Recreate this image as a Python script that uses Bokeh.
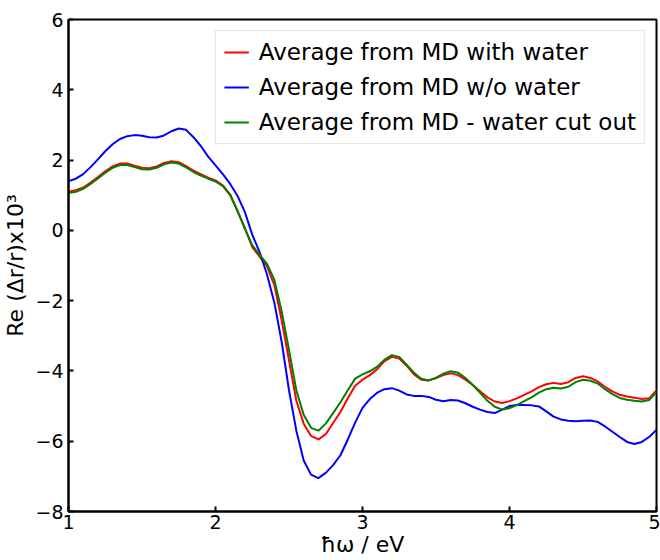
from bokeh.plotting import figure
from bokeh.models import Range1d, FixedTicker, Legend, LegendItem
from bokeh.embed import file_html
from bokeh.resources import INLINE

energy = [1.00, 1.05, 1.10, 1.15, 1.20, 1.25, 1.30, 1.35, 1.40, 1.45,
          1.50, 1.55, 1.60, 1.65, 1.70, 1.75, 1.80, 1.85, 1.90, 1.95,
          2.00, 2.05, 2.10, 2.15, 2.20, 2.25, 2.30, 2.35, 2.40, 2.45,
          2.50, 2.55, 2.60, 2.65, 2.70, 2.75, 2.80, 2.85, 2.90, 2.95,
          3.00, 3.05, 3.10, 3.15, 3.20, 3.25, 3.30, 3.35, 3.40, 3.45,
          3.50, 3.55, 3.60, 3.65, 3.70, 3.75, 3.80, 3.85, 3.90, 3.95,
          4.00, 4.05, 4.10, 4.15, 4.20, 4.25, 4.30, 4.35, 4.40, 4.45,
          4.50, 4.55, 4.60, 4.65, 4.70, 4.75, 4.80, 4.85, 4.90, 4.95,
          5.00]

with_water = [1.10, 1.14, 1.22, 1.36, 1.52, 1.68, 1.82, 1.90, 1.90, 1.84,
              1.78, 1.77, 1.82, 1.92, 1.97, 1.94, 1.83, 1.70, 1.60, 1.50,
              1.42, 1.28, 1.02, 0.55, 0.06, -0.48, -0.75, -1.02, -1.55, -2.55,
              -3.70, -4.85, -5.50, -5.85, -5.95, -5.80, -5.48, -5.17, -4.78, -4.42,
              -4.25, -4.12, -3.95, -3.72, -3.60, -3.65, -3.85, -4.10, -4.25, -4.27,
              -4.20, -4.12, -4.07, -4.12, -4.25, -4.40, -4.58, -4.75, -4.87, -4.91,
              -4.86, -4.78, -4.68, -4.58, -4.46, -4.38, -4.34, -4.37, -4.32, -4.20,
              -4.15, -4.20, -4.30, -4.45, -4.58, -4.68, -4.73, -4.76, -4.80, -4.78,
              -4.55]

without_water = [1.40, 1.47, 1.60, 1.80, 2.02, 2.25, 2.45, 2.60, 2.68, 2.71,
                 2.69, 2.65, 2.64, 2.70, 2.82, 2.90, 2.86, 2.65, 2.40, 2.10,
                 1.85, 1.60, 1.32, 0.98, 0.52, -0.12, -0.62, -1.25, -2.05, -3.17,
                 -4.55, -5.70, -6.55, -6.95, -7.05, -6.90, -6.68, -6.40, -5.95, -5.47,
                 -5.05, -4.80, -4.62, -4.52, -4.49, -4.56, -4.67, -4.71, -4.71, -4.74,
                 -4.82, -4.86, -4.83, -4.84, -4.92, -5.02, -5.10, -5.17, -5.20, -5.10,
                 -5.00, -4.97, -4.97, -4.98, -5.01, -5.15, -5.30, -5.38, -5.42, -5.43,
                 -5.42, -5.41, -5.45, -5.58, -5.73, -5.88, -6.02, -6.08, -6.02, -5.88,
                 -5.68]

water_cut_out = [1.06, 1.10, 1.18, 1.32, 1.48, 1.64, 1.78, 1.86, 1.86, 1.80,
                 1.74, 1.73, 1.78, 1.88, 1.93, 1.90, 1.79, 1.66, 1.56, 1.47,
                 1.39, 1.26, 1.00, 0.55, 0.05, -0.42, -0.70, -0.95, -1.40, -2.30,
                 -3.40, -4.55, -5.25, -5.62, -5.70, -5.50, -5.20, -4.89, -4.55, -4.22,
                 -4.10, -4.01, -3.88, -3.68, -3.55, -3.60, -3.82, -4.05, -4.22, -4.27,
                 -4.20, -4.08, -4.01, -4.05, -4.20, -4.40, -4.62, -4.85, -5.02, -5.10,
                 -5.06, -4.97, -4.86, -4.75, -4.62, -4.52, -4.48, -4.50, -4.45, -4.32,
                 -4.25, -4.28, -4.36, -4.52, -4.66, -4.77, -4.82, -4.85, -4.87, -4.83,
                 -4.60]

series_labels = ["Average from MD with water",
                 "Average from MD w/o water",
                 "Average from MD - water cut out"]
series_colors = ["#ff0000", "#0000ff", "#008000"]

x_ticks = [1, 2, 3, 4, 5]
y_ticks = [-8, -6, -4, -2, 0, 2, 4, 6]

FONT = "DejaVu Sans"

p = figure(width=660, height=560, output_backend="svg", toolbar_location=None,
           x_range=Range1d(1, 5), y_range=Range1d(-8, 6),
           min_border_left=68, min_border_right=4, min_border_top=19,
           min_border_bottom=49)

p.xgrid.visible = False
p.ygrid.visible = False
p.outline_line_color = "black"
p.outline_line_width = 2
p.outline_line_alpha = 1.0

renderers = []
for ys, col in zip([with_water, without_water, water_cut_out], series_colors):
    r = p.line(energy, ys, line_color=col, line_width=2)
    renderers.append(r)

for ax in (p.xaxis[0], p.yaxis[0]):
    ax.axis_line_width = 2
    ax.axis_line_color = "black"
    ax.major_tick_in = 5
    ax.major_tick_out = 0
    ax.major_tick_line_width = 2
    ax.minor_tick_in = 0
    ax.minor_tick_out = 0
    ax.major_label_text_font = FONT
    ax.major_label_text_font_size = "19px"
    ax.major_label_text_color = "black"
    ax.axis_label_text_font = FONT
    ax.axis_label_text_font_size = "22px"
    ax.axis_label_text_font_style = "normal"
    ax.axis_label_text_color = "black"

p.xaxis[0].major_label_standoff = 3
p.xaxis[0].axis_label_standoff = 0
p.yaxis[0].major_label_standoff = 5
p.yaxis[0].axis_label_standoff = 4

p.xaxis[0].ticker = FixedTicker(ticks=x_ticks)
p.yaxis[0].ticker = FixedTicker(ticks=y_ticks)
p.xaxis[0].axis_label = "ħω / eV"
p.yaxis[0].axis_label = "Re (Δr/r)x10³"

legend = Legend(items=[LegendItem(label=lab, renderers=[r])
                       for lab, r in zip(series_labels, renderers)],
                location="top_right")
legend.margin = 11
legend.padding = 8
legend.spacing = 9
legend.label_height = 24
legend.glyph_height = 24
legend.glyph_width = 25
legend.label_standoff = 10
legend.label_text_font = FONT
legend.label_text_font_size = "23px"
legend.label_text_color = "black"
legend.border_line_color = "#cccccc"
legend.border_line_width = 1
legend.background_fill_color = "white"
legend.background_fill_alpha = 0.8
p.add_layout(legend)

open("out.html", "w").write(file_html(p, INLINE))
